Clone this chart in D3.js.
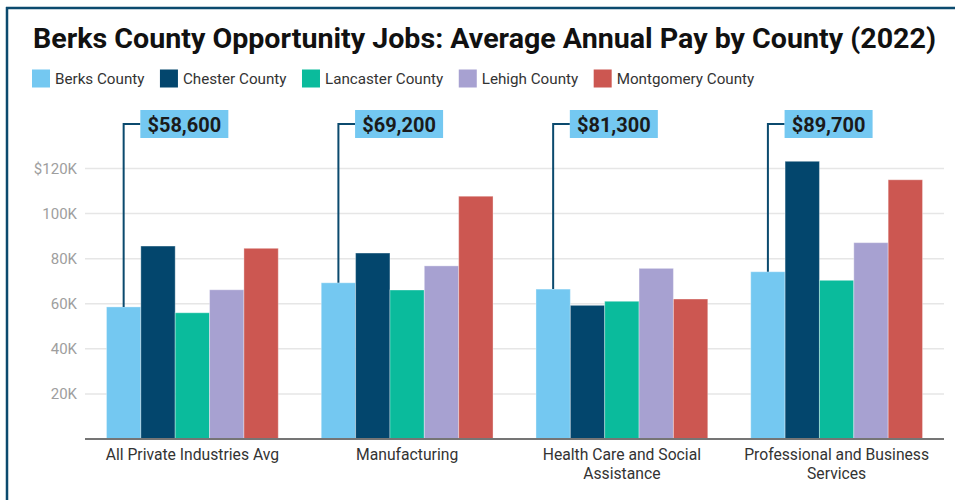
<!DOCTYPE html>
<html><head><meta charset="utf-8">
<script src="https://cdn.jsdelivr.net/npm/d3@7"></script>
<style>
html,body{margin:0;padding:0;background:#fff;}
svg{display:block;font-family:Roboto, "Noto Sans", sans-serif;}
</style></head>
<body>
<svg id="chart" width="955" height="500"></svg>
<script>
const title = "Berks County Opportunity Jobs: Average Annual Pay by County (2022)";
const categories = ["All Private Industries Avg", "Manufacturing", "Health Care and Social Assistance", "Professional and Business Services"];
const seriesNames = ["Berks County", "Chester County", "Lancaster County", "Lehigh County", "Montgomery County"];
const seriesColors = ["#74c8f1", "#03466d", "#0abb9c", "#a7a1d1", "#cc5751"];
const berks      = [58600, 69300, 66500, 74200];
const chester    = [85600, 82500, 59300, 123200];
const lancaster  = [56000, 66100, 61100, 70400];
const lehigh     = [66200, 76800, 75700, 87100];
const montgomery = [84600, 107700, 62100, 115000];
const annotations = ["$58,600", "$69,200", "$81,300", "$89,700"];
const yTicks = [20000, 40000, 60000, 80000, 100000, 120000];
const yTickLabels = ["20K", "40K", "60K", "80K", "100K", "$120K"];

const series = [berks, chester, lancaster, lehigh, montgomery];
const svg = d3.select("#chart");

// frame
svg.append("line").attr("x1", 6).attr("x2", 955).attr("y1", 8).attr("y2", 8)
  .attr("stroke", "#0b4a6e").attr("stroke-width", 2.5);
svg.append("line").attr("x1", 7).attr("x2", 7).attr("y1", 7).attr("y2", 500)
  .attr("stroke", "#0b4a6e").attr("stroke-width", 2.5);

// title
svg.append("text").attr("x", 33).attr("y", 48).text(title)
  .attr("font-size", 27.5).attr("font-weight", 700).attr("fill", "#111")
  .attr("textLength", 903).attr("lengthAdjust", "spacingAndGlyphs");

// legend
let lx = 32;
seriesNames.forEach((n, i) => {
  svg.append("rect").attr("x", lx).attr("y", 69.5).attr("width", 18).attr("height", 18)
    .attr("fill", seriesColors[i]);
  const t = svg.append("text").attr("x", lx + 23).attr("y", 83.5).text(n)
    .attr("font-size", 15.2).attr("fill", "#333");
  lx += 23 + t.node().getComputedTextLength() + 15.5;
});

const x0 = d3.scaleBand().domain(categories).range([85, 944]).paddingInner(0.2).paddingOuter(0.1);
const x1 = d3.scaleBand().domain(seriesNames).range([0, x0.bandwidth()]).padding(0);
const y = d3.scaleLinear().domain([0, 120000]).range([439, 168.5]);

// gridlines
svg.append("g").selectAll("line").data(yTicks).join("line")
  .attr("x1", 85).attr("x2", 944).attr("y1", d => y(d)).attr("y2", d => y(d))
  .attr("stroke", "#e6e6e6").attr("stroke-width", 1.5);

// y axis labels
const yAxis = d3.axisLeft(y).tickValues(yTicks).tickSize(0).tickPadding(8)
  .tickFormat((d, i) => yTickLabels[i]);
const yg = svg.append("g").attr("transform", "translate(85,0)").call(yAxis);
yg.select(".domain").remove();
yg.selectAll("text").attr("font-size", 15).attr("fill", "#9e9e9e")
  .attr("font-family", "Roboto, sans-serif");

// bars
const groups = svg.append("g").selectAll("g").data(categories).join("g")
  .attr("transform", d => `translate(${x0(d)},0)`);
groups.selectAll("rect").data((c, ci) => seriesNames.map((s, si) => ({s, si, v: series[si][ci]})))
  .join("rect")
  .attr("x", d => x1(d.s)).attr("width", x1.bandwidth())
  .attr("y", d => y(d.v)).attr("height", d => y(0) - y(d.v))
  .attr("fill", d => seriesColors[d.si])
  .attr("stroke", "rgba(255,255,255,0.35)").attr("stroke-width", 1);

// x axis
const xAxis = d3.axisBottom(x0).tickSize(0).tickPadding(0);
const xg = svg.append("g").attr("transform", `translate(0,${y(0)})`).call(xAxis);
xg.select(".domain").remove();
svg.append("line").attr("x1", 85).attr("x2", 944).attr("y1", y(0)).attr("y2", y(0))
  .attr("stroke", "#757575").attr("stroke-width", 2);
xg.selectAll("text").remove();
const xfs = 15.7;
categories.forEach(c => {
  const cx = x0(c) + x0.bandwidth() / 2;
  const words = c.split(" ");
  const lines = [];
  let cur = "";
  const tmp = svg.append("text").attr("font-size", xfs);
  words.forEach(w => {
    const test = cur ? cur + " " + w : w;
    tmp.text(test);
    if (tmp.node().getComputedTextLength() > 200 && cur) { lines.push(cur); cur = w; }
    else cur = test;
  });
  lines.push(cur);
  tmp.remove();
  lines.forEach((l, i) => {
    svg.append("text").attr("x", cx).attr("y", 460 + i * 19).attr("text-anchor", "middle")
      .attr("font-size", xfs).attr("fill", "#333").text(l);
  });
});

// annotations
categories.forEach((c, ci) => {
  const bx = x0(c) + x1(seriesNames[0]) + x1.bandwidth() / 2;
  const boxX = x0(c) + x1(seriesNames[1]) - 0.5;
  const lineY = 124;
  svg.append("path")
    .attr("d", `M${bx},${y(berks[ci])}V${lineY}H${boxX}`)
    .attr("fill", "none").attr("stroke", "#0b4a6e").attr("stroke-width", 2);
  svg.append("rect").attr("x", boxX).attr("y", 110).attr("width", 88).attr("height", 28)
    .attr("fill", "#74c8f1");
  svg.append("text").attr("x", boxX + 44).attr("y", 131.5).attr("text-anchor", "middle")
    .attr("font-size", 20).attr("font-weight", 700).attr("fill", "#1a1a1a").text(annotations[ci]);
});
</script>
</body></html>
